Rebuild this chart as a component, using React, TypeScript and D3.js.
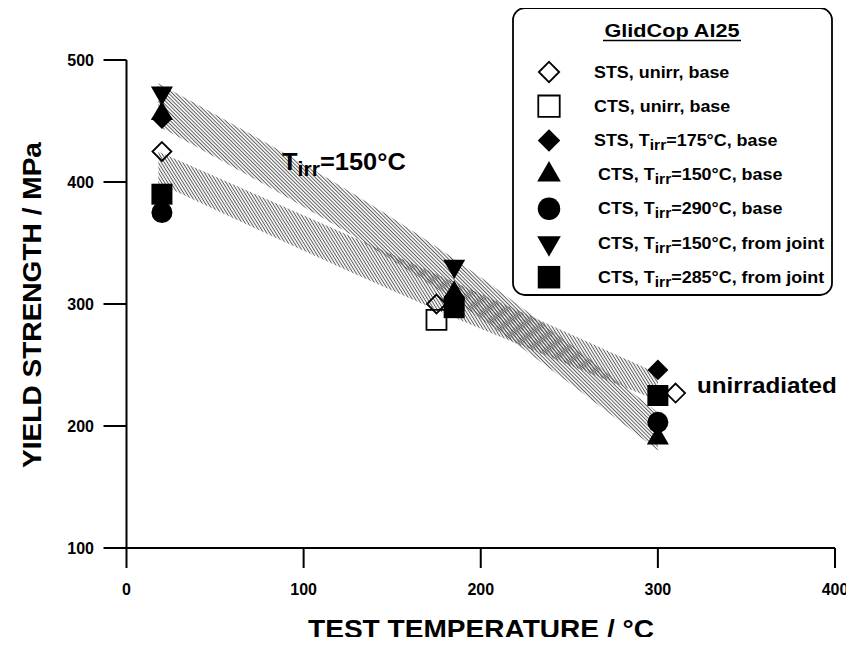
import React from "react";
import * as d3 from "d3";

// axis ticks
const xTicks = [0, 100, 200, 300, 400];
const yTicks = [100, 200, 300, 400, 500];

// data series, [test temperature °C, yield strength MPa]
const stsUnirr = [[20, 425], [175, 300], [310, 227]];
const ctsUnirr = [[175, 287]];
const sts175 = [[20, 452], [185, 306], [300, 246]];
const cts150 = [[20, 456], [185, 309], [300, 190]];
const cts290 = [[20, 375], [300, 203]];
const cts150Joint = [[20, 473], [185, 331]];
const cts285Joint = [[20, 390], [185, 297], [300, 225]];

// shaded scatter bands
const bandTemps = [18, 185, 300];
const irrLow = [446, 303, 180];
const irrHigh = [481, 337, 211];
const unirrLow = [399, 289, 221];
const unirrHigh = [425, 318, 243];

const legendLabels = [
  ["STS, unirr, base"],
  ["CTS, unirr, base"],
  ["STS, T", "irr", "=175°C, base"],
  ["CTS, T", "irr", "=150°C, base"],
  ["CTS, T", "irr", "=290°C, base"],
  ["CTS, T", "irr", "=150°C, from joint"],
  ["CTS, T", "irr", "=285°C, from joint"],
];

const FONT = "'Liberation Sans', Arial, Helvetica, sans-serif";

const diamondType = {
  draw(ctx: any, size: number) {
    const r = Math.sqrt(size / 2);
    ctx.moveTo(0, -r);
    ctx.lineTo(r, 0);
    ctx.lineTo(0, r);
    ctx.lineTo(-r, 0);
    ctx.closePath();
  },
};

// marker style per series
const series = [
  { data: stsUnirr, type: diamondType, size: 180, filled: false, rot: 0 },
  { data: ctsUnirr, type: d3.symbolSquare, size: 400, filled: false, rot: 0 },
  { data: sts175, type: diamondType, size: 220, filled: true, rot: 0 },
  { data: cts150, type: d3.symbolTriangle, size: 210, filled: true, rot: 0 },
  { data: cts290, type: d3.symbolCircle, size: 346, filled: true, rot: 0 },
  { data: cts150Joint, type: d3.symbolTriangle, size: 210, filled: true, rot: 180 },
  { data: cts285Joint, type: d3.symbolSquare, size: 441, filled: true, rot: 0 },
];

function Marker({ s, cx, cy, k = 1 }: any) {
  const d = d3.symbol().type(s.type).size(s.size * k)() as string;
  return (
    <path
      d={d}
      transform={`translate(${cx},${cy}) rotate(${s.rot})`}
      fill={s.filled ? "#000" : "none"}
      stroke="#000"
      strokeWidth={s.filled ? 0 : 1.8}
    />
  );
}

function SubText({ parts, size, subSize, subDy }: any) {
  if (parts.length === 1) return <tspan>{parts[0]}</tspan>;
  return (
    <>
      <tspan>{parts[0]}</tspan>
      <tspan dy={subDy} fontSize={subSize}>{parts[1]}</tspan>
      <tspan dy={-subDy} fontSize={size}>{parts[2]}</tspan>
    </>
  );
}

export default function App() {
  const W = 854;
  const H = 645;

  const x = d3.scaleLinear().domain([0, 400]).range([126.5, 835]);
  const y = d3.scaleLinear().domain([100, 500]).range([548, 60]);

  const area = d3
    .area<number>()
    .x((_, i) => x(bandTemps[i]))
    .curve(d3.curveMonotoneX);

  const irrPath = area
    .y0((_, i) => y(irrLow[i]))
    .y1((_, i) => y(irrHigh[i]))(bandTemps) as string;
  const unirrPath = area
    .y0((_, i) => y(unirrLow[i]))
    .y1((_, i) => y(unirrHigh[i]))(bandTemps) as string;

  const legX = 513;
  const legY = 8;
  const legW = 319;
  const legH = 287;
  const rowY = (i: number) => 72 + i * 34.2;

  return (
    <svg width={W} height={H} style={{ display: "block", margin: -8 }} fontFamily={FONT}>
      <defs>
        <pattern id="hatchA" patternUnits="userSpaceOnUse" width="2.6" height="2.6" patternTransform="rotate(-45)">
          <line x1="1.3" y1="0" x2="1.3" y2="2.6" stroke="#5a5a5a" strokeWidth="1" />
        </pattern>
        <pattern id="hatchB" patternUnits="userSpaceOnUse" width="2.6" height="2.6" patternTransform="rotate(-32)">
          <line x1="1.3" y1="0" x2="1.3" y2="2.6" stroke="#5a5a5a" strokeWidth="1" />
        </pattern>
      </defs>
      <rect width={W} height={H} fill="#fff" />

      {/* bands */}
      <path d={unirrPath} fill="url(#hatchB)" />
      <path d={irrPath} fill="url(#hatchA)" />

      {/* axes */}
      <g stroke="#000" strokeWidth={2} fill="none">
        <line x1={x(0)} x2={x(0)} y1={y(500)} y2={y(100)} />
        <line x1={x(0)} x2={x(400)} y1={y(100)} y2={y(100)} />
        {yTicks.map((t) => (
          <line key={"yt" + t} x1={x(0) - 23} x2={x(0)} y1={y(t)} y2={y(t)} />
        ))}
        {xTicks.map((t) => (
          <line key={"xt" + t} x1={x(t)} x2={x(t)} y1={y(100)} y2={y(100) + 20} />
        ))}
      </g>
      {yTicks.map((t) => (
        <text key={"yl" + t} x={94} y={y(t)} dy="0.36em" textAnchor="end" fontSize={16} fontWeight="bold">
          {t}
        </text>
      ))}
      {xTicks.map((t) => (
        <text key={"xl" + t} x={x(t)} y={595} textAnchor="middle" fontSize={16} fontWeight="bold">
          {t}
        </text>
      ))}

      {/* axis titles */}
      <text transform="translate(481,638) scale(1.08,1)" textAnchor="middle" fontSize={26} fontWeight="bold">
        TEST TEMPERATURE / °C
      </text>
      <text transform="translate(41,305) rotate(-90) scale(1.08,1)" textAnchor="middle" fontSize={26} fontWeight="bold">
        YIELD STRENGTH / MPa
      </text>

      {/* annotations */}
      <text transform="translate(282,170) scale(1.06,1)" fontSize={24} fontWeight="bold">
        <SubText parts={["T", "irr", "=150°C"]} size={24} subSize={20} subDy={6} />
      </text>
      <text transform="translate(697,393) scale(1.1,1)" fontSize={22} fontWeight="bold">
        unirradiated
      </text>

      {/* data markers */}
      {series.map((s, si) =>
        s.data.map((d, i) => <Marker key={si + "-" + i} s={s} cx={x(d[0])} cy={y(d[1])} />)
      )}

      {/* legend */}
      <rect x={legX} y={legY} width={legW} height={legH} rx={12} fill="#fff" stroke="#000" strokeWidth={1.8} />
      <text transform="translate(672,37) scale(1.14,1)" textAnchor="middle" fontSize={19} fontWeight="bold">
        GlidCop Al25
      </text>
      <line x1={603} x2={741} y1={40.5} y2={40.5} stroke="#000" strokeWidth={1.6} />
      {legendLabels.map((lbl, i) => (
        <g key={"lg" + i}>
          <Marker s={series[i]} cx={549} cy={rowY(i)} k={1.15} />
          <text
            transform={`translate(${i < 3 ? 594 : 598},${rowY(i) + 5.5}) scale(1.12,1)`}
            fontSize={16}
            fontWeight="bold"
          >
            <SubText parts={lbl} size={16} subSize={14} subDy={4} />
          </text>
        </g>
      ))}
    </svg>
  );
}
